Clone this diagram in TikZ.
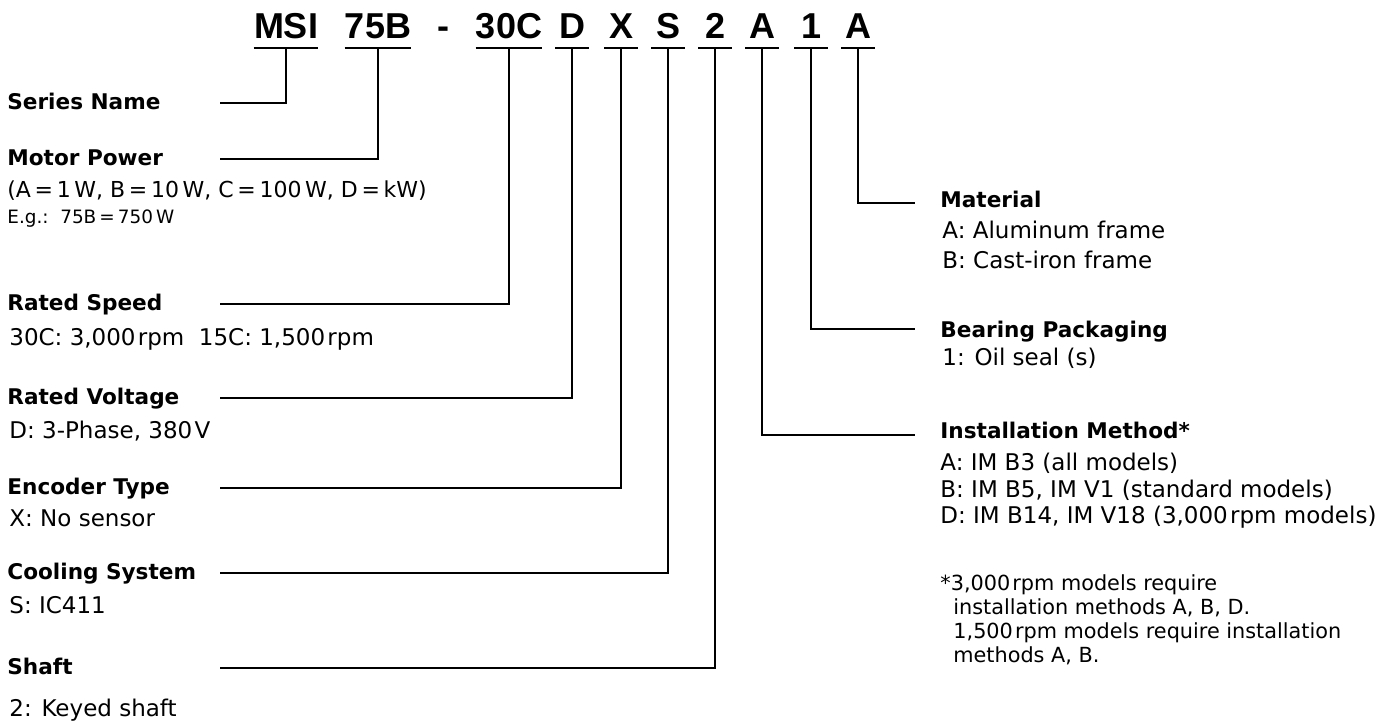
\documentclass[tikz,border=0pt]{standalone}
\usepackage{fontspec}
\setmainfont{DejaVu Sans}
\newfontfamily\codefont{Liberation Sans}
\newcommand\ts{\hspace{0.1em}}
\tikzset{
  code/.style={font=\codefont\fontsize{18}{20}\selectfont\bfseries, anchor=base, inner sep=0pt, minimum width=16.5pt},
  lab/.style={font=\fontsize{10.8}{13}\selectfont\bfseries, anchor=base west, inner sep=0pt},
  desc/.style={font=\fontsize{11.5}{13}\selectfont, anchor=base west, inner sep=0pt},
  note/.style={font=\fontsize{10.4}{12}\selectfont, anchor=base west, inner sep=0pt},
  small/.style={font=\fontsize{9.2}{11}\selectfont, anchor=base west, inner sep=0pt},
  link/.style={line width=1.25pt}
}
\begin{document}
\begin{tikzpicture}[x=0.5pt, y=-0.5pt]
\useasboundingbox (0,0) rectangle (1400,720);
% model code
\foreach \n/\x/\t in {msi/286/MSI, pw/378/75B, sp/509/30C, vt/572/D, en/621/X, co/668/S, sh/715/2, in/762/A, be/811/1, ma/858/A}{
  \node[code] (\n) at (\x,38) {\t};
  \draw[link] ([yshift=-5pt]\n.base west) -- ([yshift=-5pt]\n.base east);
  \coordinate (\n-u) at ([yshift=-5pt]\n.base);
}
\node[code] (dash) at (443,38) {-};
% left labels
\foreach \n/\y/\t in {msi/109/Series Name, pw/165/Motor Power, sp/310/Rated Speed, vt/404/Rated Voltage, en/494/Encoder Type, co/579/Cooling System, sh/674/Shaft}{
  \node[lab] (\n-lab) at (7,\y) {\t};
  \coordinate (\n-l) at (220,\y-6);
  \draw[link] (\n-l) -| (\n-u);
}
\node[desc, font=\fontsize{11}{13}\selectfont] (pw-d1) at (7,197) {(A\,=\,1\,W, B\,=\,10\,W, C\,=\,100\,W, D\,=\,kW)};
\node[small] (pw-d2) at (7,223) {E.g.:~~75B\,=\,750\,W};
\node[desc] (sp-d) at (9,345) {30C: 3,000\ts rpm~~15C: 1,500\ts rpm};
\node[desc] (vt-d) at (9,438) {D: 3-Phase, 380\ts V};
\node[desc] (en-d) at (9,526) {X: No sensor};
\node[desc] (co-d) at (9,613) {S: IC411};
\node[desc] (sh-d) at (9,716) {2: Keyed shaft};
% right labels
\foreach \n/\y/\ly/\t in {ma/207/203/Material, be/337/329/Bearing Packaging, in/438/435/Installation Method*}{
  \node[lab] (\n-lab) at (940,\y) {\t};
  \coordinate (\n-r) at (915,\ly);
  \draw[link] (\n-u) |- (\n-r);
}
\node[desc] (ma-d1) at (942,238) {A: Aluminum frame};
\node[desc] (ma-d2) at (942,268) {B: Cast-iron frame};
\node[desc] (be-d) at (942,365) {1: Oil seal (s)};
\node[desc] (in-d1) at (940,470) {A: IM B3 (all models)};
\node[desc] (in-d2) at (940,497) {B: IM B5, IM V1 (standard models)};
\node[desc] (in-d3) at (940,523) {D: IM B14, IM V18 (3,000\ts rpm models)};
% footnote
\node[note] (fn1) at (940,590) {*3,000\ts rpm models require};
\node[note] (fn2) at (953,614) {installation methods A, B, D.};
\node[note] (fn3) at (953,638) {1,500\ts rpm models require installation};
\node[note] (fn4) at (953,662) {methods A, B.};
\end{tikzpicture}
\end{document}
